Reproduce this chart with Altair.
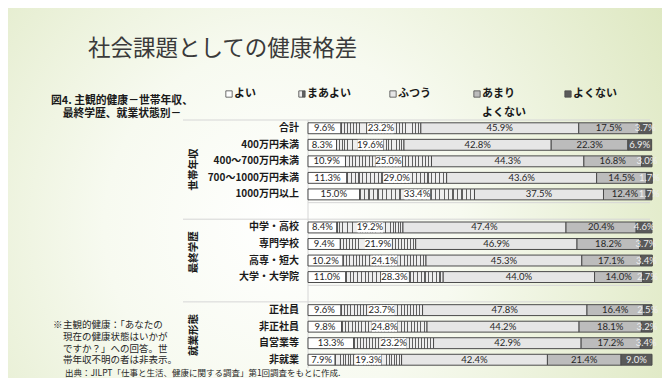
import altair as alt
import pandas as pd

# ---------------- data ----------------
categories = ["よい", "まあよい", "ふつう", "あまりよくない", "よくない"]
rows = ["合計",
        "400万円未満", "400～700万円未満", "700～1000万円未満", "1000万円以上",
        "中学・高校", "専門学校", "高専・短大", "大学・大学院",
        "正社員", "非正社員", "自営業等", "非就業"]
row_groups = ["", "世帯年収", "世帯年収", "世帯年収", "世帯年収",
              "最終学歴", "最終学歴", "最終学歴", "最終学歴",
              "就業形態", "就業形態", "就業形態", "就業形態"]
yoi = [9.6, 8.3, 10.9, 11.3, 15.0, 8.4, 9.4, 10.2, 11.0, 9.6, 9.8, 13.3, 7.9]
maa = [23.2, 19.6, 25.0, 29.0, 33.4, 19.2, 21.9, 24.1, 28.3, 23.7, 24.8, 23.2, 19.3]
futsu = [45.9, 42.8, 44.3, 43.6, 37.5, 47.4, 46.9, 45.3, 44.0, 47.8, 44.2, 42.9, 42.4]
amari = [17.5, 22.3, 16.8, 14.5, 12.4, 20.4, 18.2, 17.1, 14.0, 16.4, 18.1, 17.2, 21.4]
yokunai = [3.7, 6.9, 3.0, 1.7, 1.7, 4.6, 3.7, 3.4, 2.7, 2.5, 3.2, 3.4, 9.0]

title_text = "社会課題としての健康格差"
fig_title = ["図4. 主観的健康－世帯年収、", "最終学歴、就業状態別－"]
legend_labels = ["よい", "まあよい", "ふつう", "あまり", "よくない"]
legend_second_line = "よくない"
note_mark = "※"
note_lines = ["主観的健康：「あなたの", "現在の健康状態はいかが", "ですか？」への回答。世", "帯年収不明の者は非表示。"]
source_text = "出典：JILPT「仕事と生活、健康に関する調査」第1回調査をもとに作成."

# ---------------- styling ----------------
W, H = 654, 370
JP = "Noto Sans CJK JP"
NUM = "Lato"
STROKE = "#4a4a4a"
fills = {"よい": "#ffffff", "ふつう": "#e6e6e6", "あまりよくない": "#bcbcbc", "よくない": "#5a5a5a"}

n_str = 26
stops = []
for k in range(n_str):
    a, b, c = k / n_str, (k + 0.3) / n_str, (k + 1) / n_str
    stops += [{"offset": a, "color": "#606060"}, {"offset": b, "color": "#606060"},
              {"offset": b, "color": "#eeeeee"}, {"offset": c, "color": "#eeeeee"}]
hatch = {"gradient": "linear", "x1": 0, "y1": 0, "x2": 1, "y2": 0, "stops": stops}

bg_grad = {"gradient": "radial", "x1": 0.42, "y1": 0.55, "r1": 0,
           "x2": 0.42, "y2": 0.55, "r2": 0.78,
           "stops": [{"offset": 0, "color": "#ffffff"}, {"offset": 0.35, "color": "#f7faf0"},
                     {"offset": 1, "color": "#d7e3b5"}]}

# band domain with spacer slots between groups
domain = []
prev = None
gaps = []
for r, g in zip(rows, row_groups):
    if prev is not None and g != prev and prev != "":
        gname = f"_gap{len(gaps)+1}"
        gaps.append(gname)
        domain.append(gname)
    domain.append(r)
    prev = g

Y0, Y1 = 112, 360
yscale = alt.Scale(type="band", domain=domain, range=[Y0, Y1], paddingInner=0.34, paddingOuter=0.17)
xscale = alt.Scale(domain=[0, 100], range=[300, 644])
HALF = (Y1 - Y0) / len(domain) / 2

# long table
series = [yoi, maa, futsu, amari, yokunai]
recs = []
for i, r in enumerate(rows):
    start = 0.0
    for c, vals in zip(categories, series):
        v = vals[i]
        mid = start + v / 2
        recs.append({"row": r, "cat": c, "x0": start, "x1": start + v, "mid": mid,
                     "b0": mid - 3.8, "b1": mid + 3.8, "lab": f"{v:.1f}%"})
        start += v
df = pd.DataFrame(recs)
one = pd.DataFrame({"k": [0]})

Y = alt.Y("row:N", scale=yscale, axis=None)

layers = []
layers.append(alt.Chart(one).mark_rect(fill=bg_grad).encode(
    x=alt.value(0), x2=alt.value(W), y=alt.value(0), y2=alt.value(H)))

# table lines
def hline(rowlist, off, xstart):
    d = pd.DataFrame({"row": rowlist})
    return alt.Chart(d).mark_rule(color="#d6d6d6", strokeWidth=1, yOffset=off).encode(
        y=Y, x=alt.value(xstart), x2=alt.value(642))

layers.append(hline(["合計"], -HALF, 175))
layers.append(hline(gaps, HALF, 175))
layers.append(hline(gaps, -HALF, 300))
layers.append(alt.Chart(one).mark_rule(color="#d6d6d6", strokeWidth=1).encode(
    x=alt.value(300), y=alt.value(Y0), y2=alt.value(Y1)))

# bars
for c in categories:
    f = hatch if c == "まあよい" else fills[c]
    layers.append(alt.Chart(df).transform_filter(alt.datum.cat == c).mark_bar(
        fill=f, stroke=STROKE, strokeWidth=1, orient="horizontal").encode(
        x=alt.X("x0:Q", scale=xscale, axis=None), x2="x1:Q", y=Y))

# white label boxes on まあよい
layers.append(alt.Chart(df).transform_filter(alt.datum.cat == "まあよい").mark_bar(
    fill="#ffffff", orient="horizontal", height=10).encode(
    x=alt.X("b0:Q", scale=xscale, axis=None), x2="b1:Q", y=Y))

# segment labels
layers.append(alt.Chart(df).transform_filter(alt.datum.cat != "よくない").mark_text(
    font=NUM, fontSize=9.5, color="#262626", align="center", baseline="middle").encode(
    x=alt.X("mid:Q", scale=xscale, axis=None), y=Y, text="lab:N"))
layers.append(alt.Chart(df).transform_filter(alt.datum.cat == "よくない").mark_text(
    font=NUM, fontSize=9.5, color="#eeeeee", align="center", baseline="middle").encode(
    x=alt.X("mid:Q", scale=xscale, axis=None), y=Y, text="lab:N"))

# row labels
rdf = pd.DataFrame({"row": rows, "grp": row_groups})
layers.append(alt.Chart(rdf).mark_text(font=JP, fontSize=10, fontWeight="bold", color="#1a1a1a",
                                       align="right", baseline="middle").encode(
    x=alt.value(291), y=Y, text="row:N"))

# group labels (vertical)
gnames = []
for g in row_groups:
    if g and g not in gnames:
        gnames.append(g)
gdf = pd.DataFrame({"grp": gnames,
                    "row": [[r for r, gg in zip(rows, row_groups) if gg == g][1] for g in gnames]})
layers.append(alt.Chart(gdf).mark_text(font=JP, fontSize=10.5, fontWeight="bold", color="#1a1a1a",
                                       align="center", baseline="middle", angle=270, yOffset=HALF).encode(
    x=alt.value(186), y=Y, text="grp:N"))

# legend
LEGEND_X = [221, 294, 385, 469, 560]
LEGEND_Y = 86
for c, lx, lab in zip(categories, LEGEND_X, legend_labels):
    f = hatch if c == "まあよい" else fills[c]
    layers.append(alt.Chart(one).mark_square(size=40, fill=f, stroke=STROKE, strokeWidth=0.8, opacity=1).encode(
        x=alt.value(lx), y=alt.value(LEGEND_Y)))
    layers.append(alt.Chart(one).mark_text(font=JP, fontSize=11, fontWeight="bold", color="#1a1a1a",
                                           align="left", baseline="middle").encode(
        x=alt.value(lx + 5), y=alt.value(LEGEND_Y), text=alt.value(lab)))
layers.append(alt.Chart(one).mark_text(font=JP, fontSize=11, fontWeight="bold", color="#1a1a1a",
                                       align="left", baseline="middle").encode(
    x=alt.value(LEGEND_X[3] + 5), y=alt.value(LEGEND_Y + 19), text=alt.value(legend_second_line)))

# titles and notes
def txt(t, x, y, size, weight="normal", align="left", color="#333333"):
    return alt.Chart(one).mark_text(font=JP, fontSize=size, fontWeight=weight, color=color,
                                    align=align, baseline="middle").encode(
        x=alt.value(x), y=alt.value(y), text=alt.value(t))

layers.append(txt(title_text, 80, 41, 22.5, color="#3a3a3a"))
for i, line in enumerate(fig_title):
    layers.append(txt(line, 114, 93 + 12.8 * i, 10.8, weight="bold", align="center", color="#1a1a1a"))
layers.append(txt(note_mark, 45, 317, 9.5, color="#262626"))
for i, line in enumerate(note_lines):
    layers.append(txt(line, 55, 317 + 11.8 * i, 9.5, color="#262626"))
layers.append(txt(source_text, 57, 365, 8.5, color="#262626"))

chart = alt.layer(*layers).resolve_scale(x="independent").properties(
    width=W, height=H, autosize=alt.AutoSizeParams(type="none"), padding=0
).configure_view(stroke=None)

chart.save("out.html", embed_options={"renderer": "svg", "actions": False})
